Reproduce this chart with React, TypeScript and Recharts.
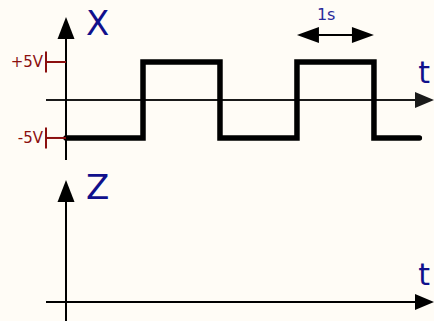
import { ComposedChart, Line, XAxis, YAxis, ReferenceLine } from 'recharts';

// square wave on X: time in seconds, level in volts
const waveTimes = [0, 1, 2, 3, 4, 4.59];
const waveVolts = [-5, 5, -5, 5, -5, -5];
const voltTicks = [5, -5];
const voltTickLabels = ['+5V', '-5V'];

// axis extents (seconds / volts)
const timeDomain = [-0.26, 4.78];
const xVoltDomain = [-7.9, 13.16];
const xAxisTop = 10.92;
const zDomain = [-2.5, 18.68];
const zAxisTop = 16.05;
const spanStart = 3;
const spanEnd = 4;
const spanLevel = 8.55;
const spanLabel = '1s';

const waveData = waveTimes.map((t, i) => ({ t, v: waveVolts[i] }));

const BG = '#fffcf6';
const NAVY = '#10108c';
const RED = '#8b0f0f';
const FONT = '"DejaVu Sans", Verdana, sans-serif';

const ArrowLine = (props: any) => {
  const { x1, y1, x2, y2, color = '#000', width = 2, head = 21, half = 8.5, both, label } = props;
  const dx = x2 - x1;
  const dy = y2 - y1;
  const len = Math.sqrt(dx * dx + dy * dy) || 1;
  const ux = dx / len;
  const uy = dy / len;
  const tri = (tx: number, ty: number, sx: number, sy: number) => {
    const bx = tx - sx * head;
    const by = ty - sy * head;
    return `${tx},${ty} ${bx - sy * half},${by + sx * half} ${bx + sy * half},${by - sx * half}`;
  };
  return (
    <g>
      <line
        x1={both ? x1 + ux * head * 0.5 : x1}
        y1={both ? y1 + uy * head * 0.5 : y1}
        x2={x2 - ux * head * 0.5}
        y2={y2 - uy * head * 0.5}
        stroke={color}
        strokeWidth={width}
      />
      <polygon points={tri(x2, y2, ux, uy)} fill={color} />
      {both && <polygon points={tri(x1, y1, -ux, -uy)} fill={color} />}
      {label && (
        <text
          x={x2 + label.dx}
          y={y2 + label.dy}
          textAnchor={label.anchor || 'start'}
          fill={label.color || NAVY}
          fontSize={label.size}
          fontFamily={FONT}
        >
          {label.text}
        </text>
      )}
    </g>
  );
};

const VoltTick = ({ x, y, payload }: any) => (
  <g>
    <text x={x - 3} y={y + 5.5} textAnchor="end" fill={RED} fontSize={15} fontFamily={FONT}>
      {voltTickLabels[voltTicks.indexOf(payload.value)]}
    </text>
    <line x1={x} y1={y - 10.5} x2={x} y2={y + 10.5} stroke={RED} strokeWidth={2} />
    <line x1={x} y1={y} x2={x + 20} y2={y} stroke={RED} strokeWidth={2} />
  </g>
);

export default function App() {
  return (
    <div style={{ position: 'absolute', left: 0, top: 0, width: 434, height: 321, background: BG, overflow: 'hidden' }}>
      <ComposedChart width={434} height={160} data={waveData} margin={{ top: 0, right: 0, bottom: 0, left: 0 }}>
        <XAxis dataKey="t" type="number" domain={timeDomain} allowDataOverflow hide />
        <YAxis
          type="number"
          domain={xVoltDomain}
          ticks={voltTicks}
          allowDataOverflow
          width={46}
          axisLine={false}
          tickLine={false}
          tickSize={0}
          tickMargin={0}
          tick={<VoltTick />}
          interval={0}
        />
        <ReferenceLine
          ifOverflow="visible"
          segment={[{ x: timeDomain[0], y: 0 }, { x: timeDomain[1], y: 0 }]}
          shape={(p: any) => (
            <ArrowLine {...p} color="#1a1a1a" width={2} head={19} half={8} label={{ text: 't', dx: -4, dy: -17, anchor: 'end', size: 30 }} />
          )}
        />
        <ReferenceLine
          ifOverflow="visible"
          segment={[{ x: 0, y: xVoltDomain[0] }, { x: 0, y: xAxisTop }]}
          shape={(p: any) => (
            <ArrowLine {...p} width={2} head={22} half={8.5} label={{ text: 'X', dx: 20, dy: 18, size: 34 }} />
          )}
        />
        <ReferenceLine
          ifOverflow="visible"
          segment={[{ x: spanStart, y: spanLevel }, { x: spanEnd, y: spanLevel }]}
          shape={(p: any) => (
            <ArrowLine {...p} both width={2} head={22} half={8} label={{ text: spanLabel, dx: -57, dy: -15, size: 16, color: '#2a2a9a' }} />
          )}
        />
        <Line
          dataKey="v"
          type="stepAfter"
          stroke="#000"
          strokeWidth={5.5}
          strokeLinejoin="miter"
          strokeLinecap="round"
          dot={false}
          isAnimationActive={false}
        />
      </ComposedChart>
      <ComposedChart width={434} height={161} data={waveData} margin={{ top: 0, right: 0, bottom: 0, left: 46 }}>
        <XAxis dataKey="t" type="number" domain={timeDomain} allowDataOverflow hide />
        <YAxis type="number" domain={zDomain} allowDataOverflow hide />
        <ReferenceLine
          ifOverflow="visible"
          segment={[{ x: timeDomain[0], y: 0 }, { x: timeDomain[1], y: 0 }]}
          shape={(p: any) => (
            <ArrowLine {...p} width={2} head={19} half={8} label={{ text: 't', dx: -4, dy: -17, anchor: 'end', size: 30 }} />
          )}
        />
        <ReferenceLine
          ifOverflow="visible"
          segment={[{ x: 0, y: zDomain[0] }, { x: 0, y: zAxisTop }]}
          shape={(p: any) => (
            <ArrowLine {...p} width={2} head={22} half={8.5} label={{ text: 'Z', dx: 20, dy: 19, size: 34 }} />
          )}
        />
      </ComposedChart>
    </div>
  );
}
